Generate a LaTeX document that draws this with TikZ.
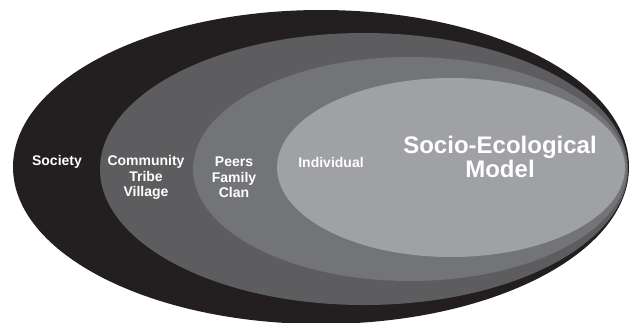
\documentclass[tikz,border=0pt]{standalone}
\usepackage{fontspec}
\setmainfont{Liberation Sans}
\definecolor{ringA}{HTML}{231F20}
\definecolor{ringB}{HTML}{5D5D5F}
\definecolor{ringC}{HTML}{737477}
\definecolor{ringD}{HTML}{A0A1A4}
\begin{document}
\begin{tikzpicture}[x = 1pt, y = -1pt]
        \tikzstyle{level} = [text = white, font = \bfseries\fontsize{14}{15.5}\selectfont, align = center, inner sep = 0pt]
        \tikzstyle{title} = [text = white, font = \bfseries\fontsize{24}{24}\selectfont, align = center, inner sep = 0pt]
        \useasboundingbox (0, 0) rectangle (631, 322);
        \fill[ringA] (321, 167) ellipse [x radius = 308pt, y radius = 157pt];
        \fill[ringB] (364, 169) ellipse [x radius = 264pt, y radius = 136pt];
        \fill[ringC] (410, 169) ellipse [x radius = 217pt, y radius = 112pt];
        \fill[ringD] (451, 167.5) ellipse [x radius = 174pt, y radius = 89.5pt];
        \node[level] (society) at (57, 162) {Society};
        \node[level] (community) at (146, 177.5) {Community\\Tribe\\Village};
        \node[level] (peers) at (234, 177.5) {Peers\\Family\\Clan};
        \node[level] (individual) at (331, 162) {Individual};
        \node[title] (model) at (500, 157) {Socio-Ecological\\Model};
      \end{tikzpicture}
\end{document}
